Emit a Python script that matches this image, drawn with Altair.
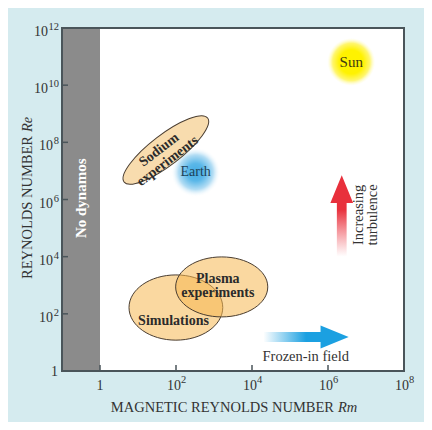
import math
import altair as alt
import pandas as pd

# ---------------- chart geometry ----------------
W, H = 342, 343
X_DOMAIN = [0.1, 1e8]
Y_DOMAIN = [1, 1e12]
PX = W / math.log10(X_DOMAIN[1] / X_DOMAIN[0])   # pixels per decade (x)
PY = H / math.log10(Y_DOMAIN[1] / Y_DOMAIN[0])   # pixels per decade (y)

FONT = "Liberation Serif"
INK = "#333333"
FRAME = "#4a555a"
BG = "#d5ebef"

# ---------------- data ----------------
x_pow_ticks = [1e2, 1e4, 1e6, 1e8]
x_pow_exps = ["2", "4", "6", "8"]
x_one_tick = [1]
y_pow1_ticks = [1e2, 1e4, 1e6, 1e8]
y_pow1_exps = ["2", "4", "6", "8"]
y_pow2_ticks = [1e10, 1e12]
y_pow2_exps = ["10", "12"]
y_one_tick = [1]
x_inner_ticks = [1, 1e2, 1e4, 1e6]
y_inner_ticks = [1e2, 1e4, 1e6, 1e8, 1e10]

nodyn_rm = [0.1, 1]
nodyn_re = [1, 1e12]

oval_names = ["Simulations", "Plasma experiments"]
oval_rm_lo = [5.8, 98]
oval_rm_hi = [1700, 26000]
oval_re_lo = [12, 78]
oval_re_hi = [2300, 9800]

sodium_rm = [4.3, 680]        # ends of the long axis
sodium_re = [4.1e6, 7.1e8]
sodium_thickness = 0.29

glow_names = ["Sun", "Earth"]
glow_rm = [4.1e6, 330]
glow_re = [6.5e10, 9e6]

turb_rm = 2.3e6
turb_re = [1e4, 7e6]
frozen_re = 15.5
frozen_rm = [2e4, 3.5e6]

label_sodium = {"t": "Sodium\nexperiments", "x": 36, "y": 5.4e7}
label_sim = {"t": "Simulations", "x": 86, "y": 56}
label_plasma = {"t": "Plasma\nexperiments", "x": 1260, "y": 1650}
label_frozen = {"t": "Frozen-in field", "x": 2.6e5, "y": 3.1}
label_turb = {"t": "Increasing\nturbulence", "x": 6.4e6, "y": 2.9e5}
label_nodyn = {"t": "No dynamos", "y": 1.1e6}

x_title = ["MAGNETIC REYNOLDS NUMBER", "Rm"]
y_title = ["REYNOLDS NUMBER", "Re"]


# ---------------- helpers ----------------
def gm(a, b):
    return math.sqrt(a * b)


def X(field):
    return alt.X(field, type="quantitative",
                 scale=alt.Scale(type="log", domain=X_DOMAIN, nice=False), axis=None)


def Y(field):
    return alt.Y(field, type="quantitative",
                 scale=alt.Scale(type="log", domain=Y_DOMAIN, nice=False), axis=None)


def ellipse_path(r):
    return f"M -1 0 A 1 {r:.4f} 0 1 1 1 0 A 1 {r:.4f} 0 1 1 -1 0 Z"


# ---------------- tables ----------------
nodyn_df = pd.DataFrame({"x": [nodyn_rm[0]], "x2": [nodyn_rm[1]],
                         "y": [nodyn_re[0]], "y2": [nodyn_re[1]]})

oval_rows = []
for n, xl, xh, yl, yh in zip(oval_names, oval_rm_lo, oval_rm_hi, oval_re_lo, oval_re_hi):
    a = math.log10(xh / xl) * PX / 2
    b = math.log10(yh / yl) * PY / 2
    oval_rows.append({"name": n, "x": gm(xl, xh), "y": gm(yl, yh),
                      "path": ellipse_path(b / a), "size": (2 * a) ** 2})
oval_df = pd.DataFrame(oval_rows)

dx = math.log10(sodium_rm[1] / sodium_rm[0]) * PX
dy = math.log10(sodium_re[1] / sodium_re[0]) * PY
sod_len = math.hypot(dx, dy)
sod_angle = 360 - math.degrees(math.atan2(dy, dx))
sodium_df = pd.DataFrame([{"name": "Sodium experiments",
                           "x": gm(*sodium_rm), "y": gm(*sodium_re),
                           "path": ellipse_path(sodium_thickness),
                           "size": sod_len ** 2, "angle": sod_angle}])

glow_df = pd.DataFrame({"name": glow_names, "x": glow_rm, "y": glow_re})

up_arrow = "M 0 -1 L 0.28 -0.32 L 0.12 -0.32 L 0.12 1 L -0.12 1 L -0.12 -0.32 L -0.28 -0.32 Z"
right_arrow = "M 1 0 L 0.34 -0.27 L 0.34 -0.118 L -1 -0.118 L -1 0.118 L 0.34 0.118 L 0.34 0.27 Z"
turb_len = math.log10(turb_re[1] / turb_re[0]) * PY
frozen_len = math.log10(frozen_rm[1] / frozen_rm[0]) * PX
turb_df = pd.DataFrame([{"x": turb_rm, "y": gm(*turb_re), "path": up_arrow, "size": turb_len ** 2}])
frozen_df = pd.DataFrame([{"x": gm(*frozen_rm), "y": frozen_re, "path": right_arrow,
                           "size": frozen_len ** 2}])

# ---------------- layers ----------------
nodyn = alt.Chart(nodyn_df).mark_rect(color="#8b8b8b").encode(
    x=X("x"), x2="x2", y=Y("y"), y2="y2")

sun_fill = {"gradient": "radial", "stops": [
    {"offset": 0, "color": "#fff200"}, {"offset": 0.5, "color": "#fff200"},
    {"offset": 0.78, "color": "#fff66e"}, {"offset": 1, "color": "rgba(255,252,210,0)"}]}
earth_fill = {"gradient": "radial", "stops": [
    {"offset": 0, "color": "#45ace4"}, {"offset": 0.35, "color": "#5ab7e8"},
    {"offset": 0.7, "color": "#b3ddf4"}, {"offset": 1, "color": "rgba(255,255,255,0)"}]}

sun = alt.Chart(glow_df[glow_df.name == "Sun"]).mark_circle(
    fill=sun_fill, opacity=1, size=math.pi * 27 ** 2).encode(x=X("x"), y=Y("y"))
earth = alt.Chart(glow_df[glow_df.name == "Earth"]).mark_circle(
    fill=earth_fill, opacity=1, size=math.pi * 28 ** 2).encode(x=X("x"), y=Y("y"))

ovals = alt.Chart(oval_df).mark_point(
    filled=True, fill="#f6b852", fillOpacity=0.55, stroke="#4a3d30", strokeWidth=1,
    opacity=1).encode(x=X("x"), y=Y("y"), shape=alt.Shape("path:N", scale=None),
                      size=alt.Size("size:Q", scale=None))

sodium = alt.Chart(sodium_df).mark_point(
    filled=True, fill="#f8dcae", fillOpacity=1, stroke="#4a3d30", strokeWidth=1,
    opacity=1).encode(x=X("x"), y=Y("y"), shape=alt.Shape("path:N", scale=None),
                      size=alt.Size("size:Q", scale=None),
                      angle=alt.Angle("angle:Q", scale=None))

turb = alt.Chart(turb_df).mark_point(
    filled=True, opacity=1, strokeWidth=0,
    fill={"gradient": "linear", "x1": 0, "y1": 0, "x2": 0, "y2": 1, "stops": [
        {"offset": 0, "color": "#e8303c"}, {"offset": 0.42, "color": "#e8303c"},
        {"offset": 1, "color": "rgba(240,80,90,0)"}]}).encode(
    x=X("x"), y=Y("y"), shape=alt.Shape("path:N", scale=None),
    size=alt.Size("size:Q", scale=None))

frozen = alt.Chart(frozen_df).mark_point(
    filled=True, opacity=1, strokeWidth=0,
    fill={"gradient": "linear", "x1": 0, "y1": 0, "x2": 1, "y2": 0, "stops": [
        {"offset": 0, "color": "rgba(27,160,225,0)"}, {"offset": 0.5, "color": "#1ba0e1"},
        {"offset": 1, "color": "#1ba0e1"}]}).encode(
    x=X("x"), y=Y("y"), shape=alt.Shape("path:N", scale=None),
    size=alt.Size("size:Q", scale=None))


def text_layer(d, **kw):
    props = dict(font=FONT, align="center", baseline="middle", lineBreak="\n")
    props.update(kw)
    df = pd.DataFrame({"t": [d["t"]], "x": [d["x"]], "y": [d["y"]]})
    return alt.Chart(df).mark_text(**props).encode(x=X("x"), y=Y("y"), text="t:N")


BOLD = dict(fontSize=14, fontWeight="bold", color="#2b2b2b")
t_sun = text_layer({"t": "Sun", "x": glow_rm[0], "y": glow_re[0]}, fontSize=15, color="#3f3a12")
t_earth = text_layer({"t": "Earth", "x": glow_rm[1], "y": glow_re[1]}, fontSize=14, color="#1e4257")
t_nodyn = text_layer({"t": label_nodyn["t"], "x": gm(*nodyn_rm), "y": label_nodyn["y"]},
                     fontSize=15, fontWeight="bold", color="white", angle=270)
t_sodium = text_layer(label_sodium, angle=round(sod_angle, 2), lineHeight=14, **BOLD)
t_sim = text_layer(label_sim, **BOLD)
t_plasma = text_layer(label_plasma, lineHeight=14, **BOLD)
t_frozen = text_layer(label_frozen, fontSize=14.5, color=INK)
t_turb = text_layer(label_turb, fontSize=14.5, color=INK, angle=270, lineHeight=14)

# tick marks drawn inside the frame
xticks = alt.Chart(pd.DataFrame({"v": x_inner_ticks})).mark_rule(
    color=FRAME, strokeWidth=1.5).encode(x=X("v"), y=alt.value(H), y2=alt.value(H - 6))
yticks = alt.Chart(pd.DataFrame({"v": y_inner_ticks})).mark_rule(
    color=FRAME, strokeWidth=1.5).encode(y=Y("v"), x=alt.value(0), x2=alt.value(6))

# tick labels: "10" with a raised exponent
LBL = dict(font=FONT, color=INK, baseline="alphabetic")
xl_one = alt.Chart(pd.DataFrame({"v": x_one_tick, "t": ["1"]})).mark_text(
    align="center", fontSize=14, **LBL).encode(x=X("v"), y=alt.value(H + 19), text="t:N")
xl_base = alt.Chart(pd.DataFrame({"v": x_pow_ticks, "t": ["10"] * len(x_pow_ticks)})).mark_text(
    align="right", dx=5, fontSize=14, **LBL).encode(x=X("v"), y=alt.value(H + 19), text="t:N")
xl_exp = alt.Chart(pd.DataFrame({"v": x_pow_ticks, "t": x_pow_exps})).mark_text(
    align="left", dx=5, fontSize=10.5, **LBL).encode(x=X("v"), y=alt.value(H + 12), text="t:N")

yl_one = alt.Chart(pd.DataFrame({"v": y_one_tick, "t": ["1"]})).mark_text(
    align="right", dy=5, fontSize=14, **LBL).encode(y=Y("v"), x=alt.value(-4), text="t:N")
yl_base1 = alt.Chart(pd.DataFrame({"v": y_pow1_ticks, "t": ["10"] * len(y_pow1_ticks)})).mark_text(
    align="right", dy=8, fontSize=14, **LBL).encode(y=Y("v"), x=alt.value(-9), text="t:N")
yl_base2 = alt.Chart(pd.DataFrame({"v": y_pow2_ticks, "t": ["10"] * len(y_pow2_ticks)})).mark_text(
    align="right", dy=8, fontSize=14, **LBL).encode(y=Y("v"), x=alt.value(-14), text="t:N")
yl_exp = alt.Chart(pd.DataFrame({"v": y_pow1_ticks + y_pow2_ticks,
                                 "t": y_pow1_exps + y_pow2_exps})).mark_text(
    align="right", dy=2, fontSize=10.5, **LBL).encode(y=Y("v"), x=alt.value(-3), text="t:N")

frame = alt.Chart(pd.DataFrame({"d": [0]})).mark_rect(
    fillOpacity=0, stroke=FRAME, strokeWidth=2).encode(
    x=alt.value(0), x2=alt.value(W), y=alt.value(0), y2=alt.value(H))

title_style = dict(font=FONT, fontSize=14.5, color=INK, baseline="alphabetic")
xt1 = alt.Chart(pd.DataFrame({"t": [x_title[0]]})).mark_text(align="right", **title_style).encode(
    text="t:N", x=alt.value(272), y=alt.value(384))
xt2 = alt.Chart(pd.DataFrame({"t": [x_title[1]]})).mark_text(
    align="left", fontStyle="italic", **title_style).encode(
    text="t:N", x=alt.value(276), y=alt.value(384))
yt1 = alt.Chart(pd.DataFrame({"t": [y_title[0]]})).mark_text(
    align="right", angle=270, **title_style).encode(text="t:N", x=alt.value(-30), y=alt.value(108))
yt2 = alt.Chart(pd.DataFrame({"t": [y_title[1]]})).mark_text(
    align="left", angle=270, fontStyle="italic", **title_style).encode(
    text="t:N", x=alt.value(-30), y=alt.value(104))

chart = alt.layer(
    nodyn, earth, sun, ovals, sodium, turb, frozen,
    t_sun, t_earth, t_nodyn, t_sodium, t_sim, t_plasma, t_frozen, t_turb,
    xticks, yticks, frame,
    xl_one, xl_base, xl_exp, yl_one, yl_base1, yl_base2, yl_exp,
    xt1, xt2, yt1, yt2,
).properties(
    width=W, height=H,
    autosize=alt.AutoSizeParams(type="none"),
    padding={"left": 54, "top": 20, "right": 20, "bottom": 51},
    background=BG,
).configure_view(stroke=None, fill="white")

chart.save("out.html", embed_options={"renderer": "svg", "actions": False})
